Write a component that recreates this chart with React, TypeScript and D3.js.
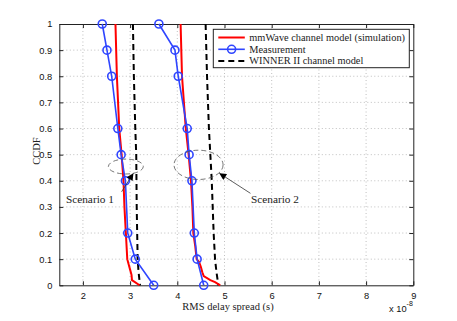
import React, { useEffect, useRef } from 'react';
import * as d3 from 'd3';

// CCDF levels where the measurement markers sit
const ccdfLevels = [1, 0.9, 0.8, 0.6, 0.5, 0.4, 0.2, 0.1, 0];
const meas1 = [2.41, 2.51, 2.61, 2.74, 2.81, 2.9, 2.95, 3.11, 3.5];
const meas2 = [3.61, 3.95, 4.02, 4.21, 4.25, 4.31, 4.36, 4.42, 4.56];

// mmWave simulation (red)
const sim1X = [2.69, 2.72, 2.77, 2.82, 2.86, 2.88, 2.91, 2.94, 2.97, 3.0, 3.03, 3.04, 3.2];
const sim1Y = [1, 0.8, 0.6, 0.5, 0.4, 0.3, 0.2, 0.1, 0.08, 0.06, 0.04, 0.02, 0];
const sim2X = [4.07, 4.1, 4.18, 4.24, 4.29, 4.32, 4.34, 4.38, 4.41, 4.46, 4.5, 4.53, 4.56, 4.7, 4.8, 4.91];
const sim2Y = [1, 0.8, 0.6, 0.5, 0.4, 0.3, 0.2, 0.15, 0.1, 0.09, 0.07, 0.05, 0.035, 0.02, 0.012, 0];

// WINNER II (black dashed)
const win1X = [3.06, 3.08, 3.11, 3.13, 3.14, 3.15, 3.16, 3.18, 3.21];
const win1Y = [1, 0.8, 0.6, 0.5, 0.3, 0.2, 0.1, 0.05, 0];
const win2X = [4.6, 4.63, 4.67, 4.7, 4.73, 4.77, 4.8, 4.83, 4.87];
const win2Y = [1, 0.8, 0.6, 0.5, 0.4, 0.2, 0.1, 0.05, 0];

const xTicks = [2, 3, 4, 5, 6, 7, 8, 9];
const yTicks = [0, 0.1, 0.2, 0.3, 0.4, 0.5, 0.6, 0.7, 0.8, 0.9, 1];
const legendLabels = ['mmWave channel model (simulation)', 'Measurement', 'WINNER II channel model'];

const RED = '#ff0000';
const BLUE = '#2f45ff';
const SERIF = "'Liberation Serif', 'DejaVu Serif', serif";
const SANS = "'Liberation Sans', Arial, sans-serif";

export default function App() {
  const ref = useRef<SVGSVGElement>(null);

  useEffect(() => {
    const svg = d3.select(ref.current);
    svg.selectAll('*').remove();

    const left = 59.3, right = 413.3, top = 24, bottom = 285.3;
    const x = d3.scaleLinear().domain([1.5, 9]).range([left, right]);
    const y = d3.scaleLinear().domain([0, 1]).range([bottom, top]);

    const g = svg.append('g');

    // grid
    g.append('g')
      .selectAll('line')
      .data(xTicks.filter(t => t < 9))
      .enter()
      .append('line')
      .attr('x1', d => x(d)).attr('x2', d => x(d))
      .attr('y1', top).attr('y2', bottom)
      .attr('stroke', '#b0b0b0').attr('stroke-width', 0.8).attr('stroke-dasharray', '1,2.5');
    g.append('g')
      .selectAll('line')
      .data(yTicks.filter(t => t > 0 && t < 1))
      .enter()
      .append('line')
      .attr('x1', left).attr('x2', right)
      .attr('y1', d => y(d)).attr('y2', d => y(d))
      .attr('stroke', '#b0b0b0').attr('stroke-width', 0.8).attr('stroke-dasharray', '1,2.5');

    // axes (ticks inside)
    const axisStyle = (sel: any) => {
      sel.selectAll('path').attr('stroke', '#222');
      sel.selectAll('line').attr('stroke', '#222');
      sel.selectAll('text').attr('font-family', SANS).attr('font-size', 9.3).attr('fill', '#111');
    };
    g.append('g')
      .attr('transform', `translate(0,${bottom})`)
      .call(d3.axisBottom(x).tickValues(xTicks).tickSizeInner(-4).tickSizeOuter(0).tickPadding(7))
      .call(axisStyle);
    g.append('g')
      .attr('transform', `translate(0,${top})`)
      .call(d3.axisTop(x).tickValues(xTicks).tickSizeInner(-4).tickSizeOuter(0).tickFormat(() => ''))
      .call(axisStyle);
    g.append('g')
      .attr('transform', `translate(${left},0)`)
      .call(d3.axisLeft(y).tickValues(yTicks).tickSizeInner(-4).tickSizeOuter(0).tickPadding(7)
        .tickFormat(d => (d === 0 || d === 1 ? String(d) : d3.format('.1f')(d as number))))
      .call(axisStyle);
    g.append('g')
      .attr('transform', `translate(${right},0)`)
      .call(d3.axisRight(y).tickValues(yTicks).tickSizeInner(-4).tickSizeOuter(0).tickFormat(() => ''))
      .call(axisStyle);

    const line = d3.line<[number, number]>().x(d => x(d[0])).y(d => y(d[1]));
    const zip = (xs: number[], ys: number[]) => xs.map((v, i) => [v, ys[i]] as [number, number]);

    // WINNER II
    [zip(win1X, win1Y), zip(win2X, win2Y)].forEach(pts => {
      g.append('path').attr('d', line(pts)).attr('fill', 'none')
        .attr('stroke', '#000').attr('stroke-width', 2).attr('stroke-dasharray', '6,4');
    });
    // simulation
    [zip(sim1X, sim1Y), zip(sim2X, sim2Y)].forEach(pts => {
      g.append('path').attr('d', line(pts)).attr('fill', 'none')
        .attr('stroke', RED).attr('stroke-width', 2);
    });
    // measurement
    [meas1, meas2].forEach(xs => {
      const pts = zip(xs, ccdfLevels);
      g.append('path').attr('d', line(pts)).attr('fill', 'none')
        .attr('stroke', BLUE).attr('stroke-width', 1.6);
      g.append('g').selectAll('circle').data(pts).enter().append('circle')
        .attr('cx', d => x(d[0])).attr('cy', d => y(d[1])).attr('r', 4)
        .attr('fill', 'none').attr('stroke', BLUE).attr('stroke-width', 1.6);
    });

    // annotations
    const ellipses = [
      { x0: 2.54, x1: 3.28, y0: 0.426, y1: 0.483 },
      { x0: 3.93, x1: 4.97, y0: 0.405, y1: 0.517 },
    ];
    ellipses.forEach(e => {
      g.append('ellipse')
        .attr('cx', (x(e.x0) + x(e.x1)) / 2).attr('cy', (y(e.y0) + y(e.y1)) / 2)
        .attr('rx', (x(e.x1) - x(e.x0)) / 2).attr('ry', (y(e.y0) - y(e.y1)) / 2)
        .attr('fill', 'none').attr('stroke', '#555').attr('stroke-width', 0.8).attr('stroke-dasharray', '5,3');
    });

    svg.append('defs').append('marker')
      .attr('id', 'arrow').attr('viewBox', '0 0 10 10').attr('refX', 10).attr('refY', 5)
      .attr('markerWidth', 9).attr('markerHeight', 7).attr('markerUnits', 'userSpaceOnUse').attr('orient', 'auto')
      .append('path').attr('d', 'M0,0 L10,5 L0,10 z').attr('fill', '#000');

    const arrows = [
      { label: 'Scenario 1', tx: 1.64, ty: 0.315, ax: 2.82, ay: 0.358, bx: 3.07, by: 0.429 },
      { label: 'Scenario 2', tx: 5.56, ty: 0.315, ax: 5.55, ay: 0.352, bx: 4.89, by: 0.429 },
    ];
    arrows.forEach(a => {
      g.append('line')
        .attr('x1', x(a.ax)).attr('y1', y(a.ay)).attr('x2', x(a.bx)).attr('y2', y(a.by))
        .attr('stroke', '#333').attr('stroke-width', 0.8).attr('marker-end', 'url(#arrow)');
      g.append('text').attr('x', x(a.tx)).attr('y', y(a.ty))
        .attr('font-family', SERIF).attr('font-size', 11.3).attr('fill', '#222').text(a.label);
    });

    // legend
    const lg = g.append('g').attr('transform', 'translate(213.3,29.3)');
    lg.append('rect').attr('width', 196).attr('height', 38.4)
      .attr('fill', '#fff').attr('stroke', '#222').attr('stroke-width', 1);
    legendLabels.forEach((lab, i) => {
      const ly = 8.2 + i * 11.8;
      const l = lg.append('line').attr('x1', 5).attr('x2', 31.5).attr('y1', ly).attr('y2', ly);
      if (i === 0) l.attr('stroke', RED).attr('stroke-width', 2);
      if (i === 1) {
        l.attr('stroke', BLUE).attr('stroke-width', 1.6);
        lg.append('circle').attr('cx', 18.3).attr('cy', ly).attr('r', 4)
          .attr('fill', 'none').attr('stroke', BLUE).attr('stroke-width', 1.6);
      }
      if (i === 2) l.attr('stroke', '#000').attr('stroke-width', 2).attr('stroke-dasharray', '6,4');
      lg.append('text').attr('x', 36).attr('y', ly + 3.3)
        .attr('font-family', SERIF).attr('font-size', 10.35).attr('fill', '#222').text(lab);
    });

    // labels
    g.append('text').attr('x', 228).attr('y', 310).attr('text-anchor', 'middle')
      .attr('font-family', SERIF).attr('font-size', 10.5).attr('fill', '#222').text('RMS delay spread (s)');
    g.append('text').attr('transform', 'translate(40,151) rotate(-90)').attr('text-anchor', 'middle')
      .attr('font-family', SERIF).attr('font-size', 10.5).attr('fill', '#222').text('CCDF');
    const sci = g.append('text').attr('x', 389).attr('y', 312)
      .attr('font-family', SANS).attr('font-size', 9.3).attr('fill', '#111');
    sci.append('tspan').text('x 10');
    sci.append('tspan').attr('dy', -6).attr('font-size', 7).text('-8');
  }, []);

  return (
    <div style={{ position: 'absolute', left: 0, top: 0 }}>
      <svg ref={ref} width={457} height={321} style={{ display: 'block', background: '#fff' }} />
    </div>
  );
}
